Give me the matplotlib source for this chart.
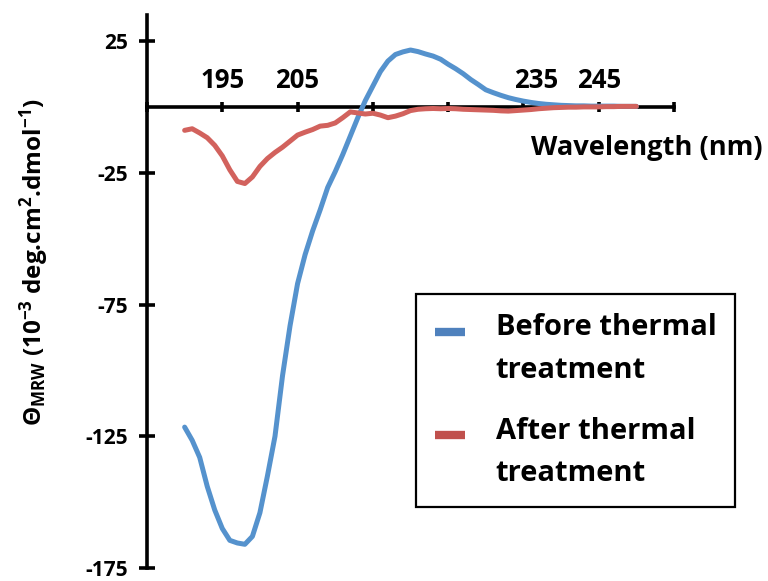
import matplotlib
matplotlib.use("Agg")
import matplotlib.pyplot as plt
from matplotlib.transforms import ScaledTranslation

plt.rcParams['font.family'] = ['Open Sans', 'DejaVu Sans']
plt.rcParams['font.weight'] = 'bold'
plt.rcParams['axes.unicode_minus'] = False
plt.rcParams['mathtext.fontset'] = 'custom'
plt.rcParams['mathtext.rm'] = 'Open Sans:bold'
plt.rcParams['mathtext.bf'] = 'Open Sans:bold'
plt.rcParams['mathtext.it'] = 'Open Sans:bold'

# --- CD spectra (1 nm steps) ---
wavelength = list(range(190, 251))
before = [-121.5, -126.5, -133, -144, -153, -160, -164.5, -165.5, -166, -163,
          -154, -140, -125, -102, -83, -67, -56, -47, -39, -30.5,
          -24.5, -18, -11, -4, 2.5, 8, 13.5, 17.5, 20, 21,
          21.7, 21.1, 20.2, 19.4, 18.2, 16.3, 14.6, 12.7, 10.5, 8.6,
          6.6, 5.5, 4.5, 3.6, 2.9, 2.3, 1.8, 1.4, 1.1, 0.9,
          0.7, 0.6, 0.5, 0.5, 0.4, 0.4, 0.4, 0.4, 0.3, 0.3, 0.3]
after = [-8.8, -8.2, -9.8, -11.6, -14.5, -18.5, -23.8, -28.2, -29.0, -26.5,
         -22.5, -19.5, -17.2, -15.2, -12.9, -10.6, -9.5, -8.5, -7.2, -6.9,
         -6.0, -4.0, -1.8, -2.2, -2.6, -2.3, -3.0, -4.0, -3.4, -2.5,
         -1.3, -0.8, -0.6, -0.5, -0.6, -0.5, -0.6, -0.8, -0.9, -1.0,
         -1.1, -1.2, -1.4, -1.5, -1.3, -1.1, -0.9, -0.6, -0.4, -0.2,
         -0.1, 0, 0, 0.1, 0.1, 0.1, 0.2, 0.2, 0.3, 0.3, 0.3]

xticks = [185, 195, 205, 215, 225, 235, 245, 255]
xticklabels = ['', '195', '205', '', '', '235', '245', '']
yticks = [25, -25, -75, -125, -175]

fig = plt.figure(figsize=(7.68, 5.81), dpi=100)
ax = fig.add_axes([147/768, 1 - 568/581, (674 - 147)/768, (568 - 15)/581])

ax.plot(wavelength, before, color='#5592CD', lw=3.6, solid_capstyle='round',
        solid_joinstyle='round', label='Before thermal\ntreatment', zorder=3)
ax.plot(wavelength, after, color='#D2625D', lw=3.6, solid_capstyle='round',
        solid_joinstyle='round', label='After thermal\ntreatment', zorder=3)

ax.set_xlim(185, 255)
ax.set_ylim(-175, 35)

# x axis sits at y = 0, labels above it
ax.spines['bottom'].set_visible(False)
ax.spines['right'].set_visible(False)
ax.spines['top'].set_position(('data', 0))
for s in ('top', 'left'):
    ax.spines[s].set_linewidth(2.6)
    ax.spines[s].set_zorder(2)
ax.xaxis.set_ticks_position('top')
ax.set_xticks(xticks)
ax.set_xticklabels(xticklabels)
ax.tick_params(axis='x', direction='inout', length=7, width=2.6, pad=6, labelsize=18.5)
ax.set_yticks(yticks)
ax.tick_params(axis='y', direction='inout', length=11, width=2.6, pad=8, labelsize=15)

# the "235" label sits a little right of its tick in the original
lbl = ax.get_xticklabels()[5]
lbl.set_transform(lbl.get_transform() + ScaledTranslation(0.13, 0, fig.dpi_scale_trans))

fig.text(0.993, 1 - 148/581, 'Wavelength (nm)', ha='right', va='center', fontsize=19.6)
fig.text(34/768, 1 - 262/581,
         'Θ$_{\\mathrm{MRW}}$ (10$^{-3}$ deg.cm$^{2}$.dmol$^{-1}$)',
         rotation=90, ha='center', va='center', fontsize=17.5)

leg = ax.legend(loc='upper left', bbox_to_anchor=(416/768, 1 - 294/581),
                bbox_transform=fig.transFigure, borderaxespad=0,
                fancybox=False, framealpha=1, edgecolor='black', fontsize=21,
                handlelength=1.03, handletextpad=1.05, labelspacing=1.1,
                borderpad=0.65)
leg.get_frame().set_linewidth(1.6)
for t in leg.get_texts():
    t.set_linespacing(1.62)
for h, c in zip(leg.legend_handles, ['#4F81BD', '#C0504D']):
    h.set_color(c)
    h.set_linewidth(6)
    h.set_solid_capstyle('butt')
    # handle sits level with the first text line, as in the original
    h.set_ydata([y + 13 for y in h.get_ydata()])

fig.savefig('out.png', dpi=100)
